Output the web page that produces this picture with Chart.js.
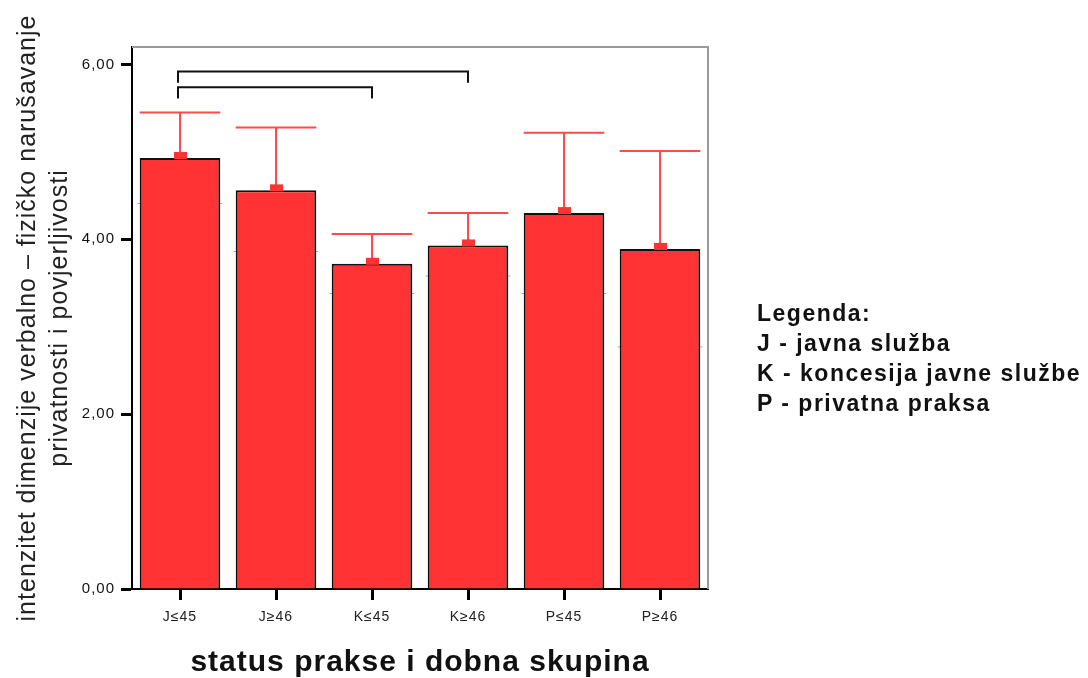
<!DOCTYPE html>
<html>
<head>
<meta charset="utf-8">
<script src="https://cdn.jsdelivr.net/npm/chart.js@4"></script>
<style>
  html, body { margin: 0; padding: 0; background: #fff; }
  #wrap { position: relative; width: 1088px; height: 678px; }
  #legenda {
    position: absolute; left: 757px; top: 298px;
    font-family: "Liberation Sans", Arial, sans-serif;
    font-weight: bold; font-size: 23px; line-height: 30px;
    letter-spacing: 1.5px; color: #111; white-space: nowrap;
  }
</style>
</head>
<body>
<div id="wrap">
  <canvas id="barChart" width="1088" height="678"></canvas>
  <div id="legenda">
    Legenda:<br>
    J - javna služba<br>
    K - koncesija javne službe<br>
    P - privatna praksa
  </div>
</div>
<script>
// categories and values
var groups = ['J\u226445', 'J\u226546', 'K\u226445', 'K\u226546', 'P\u226445', 'P\u226546'];
var means = [4.93, 4.56, 3.72, 3.93, 4.30, 3.89];
var upperErr = [5.45, 5.28, 4.06, 4.30, 5.22, 5.01];
var lowerErr = [4.41, 3.86, 3.38, 3.58, 3.38, 2.77];
var yTicks = [0, 2, 4, 6];

// significance brackets (group index from / to, height in axis units)
var bracketFrom = [0, 0];
var bracketTo = [3, 2];
var bracketLevel = [5.92, 5.74];
var bracketDrop = 0.13;

var red = '#FF3333';
var errRed = '#FF4A4A';

var errorBars = {
    id: 'errorBars',
    beforeDraw: function (chart) {
        // the old SPSS output is drawn with slightly spaced letters
        chart.ctx.letterSpacing = '1px';
    },
    beforeDatasetsDraw: function (chart) {
        var ctx = chart.ctx, y = chart.scales.y;
        var meta = chart.getDatasetMeta(0);
        var a = chart.chartArea;
        ctx.save();
        // grey frame, top and right
        ctx.strokeStyle = '#9a9a9a';
        ctx.lineWidth = 2;
        ctx.beginPath();
        ctx.moveTo(a.left, a.top);
        ctx.lineTo(a.right, a.top);
        ctx.lineTo(a.right, a.bottom);
        ctx.stroke();
        // lower whiskers, mostly hidden behind the bars
        ctx.strokeStyle = '#ff8080';
        ctx.lineWidth = 1;
        meta.data.forEach(function (bar, i) {
            var yl = y.getPixelForValue(lowerErr[i]);
            ctx.beginPath();
            ctx.moveTo(bar.x - bar.width / 2 - 2, yl);
            ctx.lineTo(bar.x + bar.width / 2 + 2, yl);
            ctx.stroke();
        });
        ctx.restore();
    },
    afterDatasetsDraw: function (chart) {
        var ctx = chart.ctx, x = chart.scales.x, y = chart.scales.y;
        var meta = chart.getDatasetMeta(0);
        ctx.save();
        meta.data.forEach(function (bar, i) {
            var ym = y.getPixelForValue(means[i]);
            var yu = y.getPixelForValue(upperErr[i]);
            ctx.strokeStyle = errRed;
            ctx.lineWidth = 2;
            ctx.beginPath();
            ctx.moveTo(bar.x, ym);
            ctx.lineTo(bar.x, yu);
            ctx.moveTo(bar.x - bar.width / 2, yu);
            ctx.lineTo(bar.x + bar.width / 2, yu);
            ctx.stroke();
            // mean marker
            ctx.fillStyle = red;
            ctx.fillRect(bar.x - 6, ym - 6, 13, 7);
        });
        // brackets
        ctx.strokeStyle = '#111';
        ctx.lineWidth = 2;
        bracketFrom.forEach(function (f, k) {
            var x1 = x.getPixelForValue(f) - 2;
            var x2 = x.getPixelForValue(bracketTo[k]);
            var yt = y.getPixelForValue(bracketLevel[k]);
            var yb = y.getPixelForValue(bracketLevel[k] - bracketDrop);
            ctx.beginPath();
            ctx.moveTo(x1, yb);
            ctx.lineTo(x1, yt);
            ctx.lineTo(x2, yt);
            ctx.lineTo(x2, yb);
            ctx.stroke();
        });
        ctx.restore();
    }
};

var ctx = document.getElementById('barChart');
var myBarChart = new Chart(ctx, {
    type: 'bar',
    data: {
        labels: groups,
        datasets: [{
            data: means,
            backgroundColor: red,
            borderColor: '#111',
            borderWidth: 2,
            borderSkipped: 'bottom',
            categoryPercentage: 1,
            barPercentage: 0.84
        }]
    },
    options: {
        responsive: false,
        animation: false,
        layout: { padding: { left: 0, top: 47, right: 380, bottom: 0 } },
        plugins: { legend: { display: false }, tooltip: { enabled: false } },
        scales: {
            x: {
                afterFit: function (s) { s.height = 89; },
                grid: { offset: false, drawOnChartArea: false, tickLength: 11, tickWidth: 3, tickColor: '#000' },
                border: { color: '#000', width: 2 },
                ticks: { padding: 9, color: '#222', font: { family: 'Liberation Sans', size: 14 } },
                title: {
                    display: true,
                    text: 'status prakse i dobna skupina',
                    color: '#111',
                    padding: { top: 0, bottom: 0 },
                    font: { family: 'Liberation Sans', size: 30, weight: 'bold', lineHeight: 1 }
                }
            },
            y: {
                min: 0,
                max: 6.2,
                afterFit: function (s) { s.width = 132; },
                afterBuildTicks: function (s) {
                    s.ticks = yTicks.map(function (v) { return { value: v }; });
                },
                grid: { drawOnChartArea: false, tickLength: 11, tickWidth: 3, tickColor: '#000' },
                border: { color: '#000', width: 2 },
                ticks: {
                    padding: 6,
                    color: '#111',
                    font: { family: 'Liberation Sans', size: 15 },
                    callback: function (v) { return v.toFixed(2).replace('.', ','); }
                },
                title: {
                    display: true,
                    text: ['intenzitet dimenzije verbalno \u2013 fizi\u010dko naru\u0161avanje', 'privatnosti i povjerljivosti'],
                    color: '#222',
                    padding: { top: 12, bottom: 0 },
                    font: { family: 'Liberation Sans', size: 25, lineHeight: 1.28 }
                }
            }
        }
    },
    plugins: [errorBars]
});
</script>
</body>
</html>
